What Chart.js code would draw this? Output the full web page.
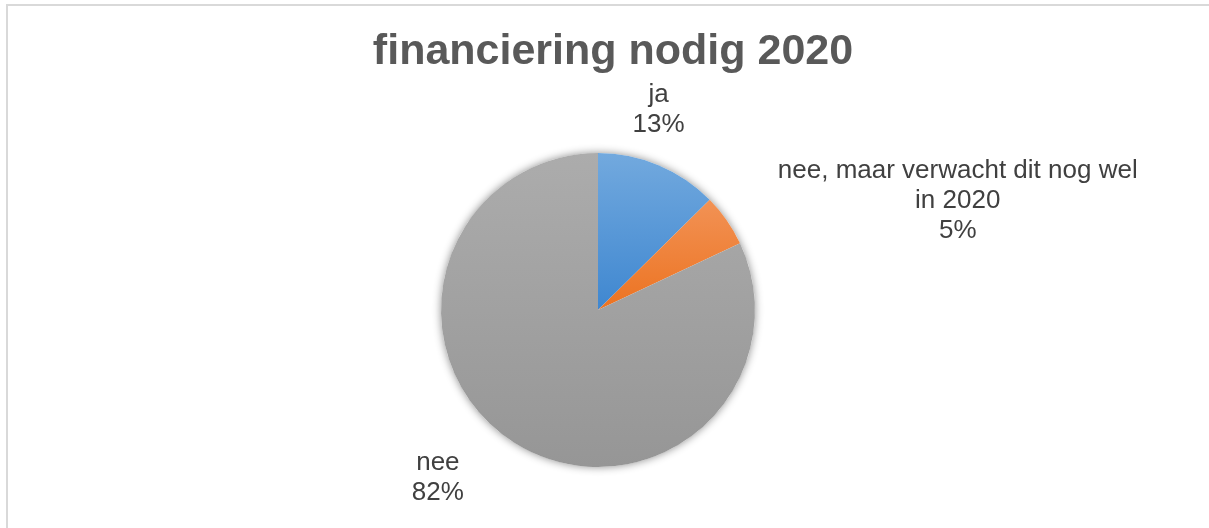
<!DOCTYPE html>
<html lang="nl">
<head>
<meta charset="UTF-8">
<title>financiering nodig 2020</title>
<script src="https://cdn.jsdelivr.net/npm/chart.js@4.4.0/dist/chart.umd.min.js"></script>
<style>
html,body{margin:0;padding:0;background:#fff;overflow:hidden}
#frame{position:absolute;left:6px;top:4px;width:1300px;height:600px;border:2px solid #d9d9d9}
#wrap{position:absolute;left:0;top:0;width:1209px;height:528px}
</style>
</head>
<body>
<div id="frame"></div>
<div id="wrap"><canvas id="pie"></canvas></div>
<script>
/* ---------- data ---------- */
const chartTitle = 'financiering nodig 2020';
const categories = ['ja', ['nee, maar verwacht dit nog wel', 'in 2020'], 'nee'];
const shares = [12.6, 5.4, 82.0];   // percent

/* ---------- look ---------- */
// gradient per slice: [top colour, bottom colour]
const sliceColors = [['#72a9de', '#3f87d0'], ['#f29255', '#ec7321'], ['#acacac', '#969696']];
// where each label block sits, relative to the slice's outer mid-point
const labelShift = [[0, -55], [231, -19], [-76, 35]];
const labelFont = '26px "Liberation Sans", Arial, sans-serif';
const titleFont = 'bold 43px "Liberation Sans", Arial, sans-serif';

const total = shares.reduce((a, b) => a + b, 0);

function sliceGradient(ctx, i) {
  const area = ctx.chart.chartArea;
  if (!area) return sliceColors[i][0];
  const cx = (area.left + area.right) / 2, cy = (area.top + area.bottom) / 2;
  const r = Math.min(area.right - area.left, area.bottom - area.top) / 2;
  const before = shares.slice(0, i).reduce((a, b) => a + b, 0);
  const a0 = -Math.PI / 2 + before / total * 2 * Math.PI;
  const a1 = a0 + shares[i] / total * 2 * Math.PI;
  const ys = [cy, cy + r * Math.sin(a0), cy + r * Math.sin(a1)];
  const inRange = a => { let t = a; while (t < a0) t += 2 * Math.PI; return t <= a1; };
  if (inRange(-Math.PI / 2)) ys.push(cy - r);
  if (inRange(Math.PI / 2)) ys.push(cy + r);
  const g = ctx.chart.ctx.createLinearGradient(0, Math.min(...ys), 0, Math.max(...ys));
  g.addColorStop(0, sliceColors[i][0]);
  g.addColorStop(1, sliceColors[i][1]);
  return g;
}

/* soft shadow under the whole pie */
const pieShadow = {
  id: 'pieShadow',
  beforeDatasetsDraw(chart) {
    const arc = chart.getDatasetMeta(0).data[0];
    if (!arc) return;
    const c = chart.ctx;
    c.save();
    c.shadowColor = 'rgba(0,0,0,0.45)';
    c.shadowBlur = 9;
    c.fillStyle = '#fff';
    c.beginPath();
    c.arc(arc.x, arc.y, arc.outerRadius, 0, Math.PI * 2);
    c.fill();
    c.restore();
  }
};

/* title + outside data labels */
const textLayer = {
  id: 'textLayer',
  afterDatasetsDraw(chart) {
    const c = chart.ctx;
    c.save();
    c.textAlign = 'center';
    c.textBaseline = 'middle';
    c.fillStyle = '#595959';
    c.font = titleFont;
    c.fillText(chartTitle, 613, 52);

    c.font = labelFont;
    c.fillStyle = '#404040';
    chart.getDatasetMeta(0).data.forEach((arc, i) => {
      const mid = (arc.startAngle + arc.endAngle) / 2;
      const ax = arc.x + arc.outerRadius * Math.cos(mid) + labelShift[i][0];
      const ay = arc.y + arc.outerRadius * Math.sin(mid) + labelShift[i][1];
      const name = [].concat(categories[i]);
      const lines = name.concat(Math.round(shares[i] / total * 100) + '%');
      const lh = 30;
      lines.forEach((t, k) => c.fillText(t, ax, ay + (k - (lines.length - 1) / 2) * lh));
    });
    c.restore();
  }
};

new Chart(document.getElementById('pie'), {
  type: 'pie',
  data: {
    labels: categories.map(c => [].concat(c).join(' ')),
    datasets: [{
      data: shares,
      backgroundColor: ctx => sliceGradient(ctx, ctx.dataIndex),
      borderWidth: 0
    }]
  },
  options: {
    responsive: true,
    maintainAspectRatio: false,
    animation: false,
    events: [],
    layout: { padding: { left: 441, right: 454, top: 153, bottom: 61 } },
    plugins: { legend: { display: false }, tooltip: { enabled: false }, title: { display: false } }
  },
  plugins: [pieShadow, textLayer]
});
</script>
</body>
</html>
